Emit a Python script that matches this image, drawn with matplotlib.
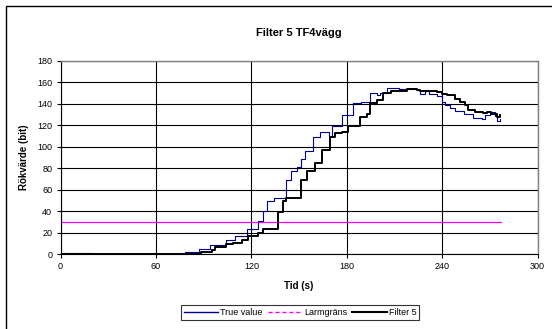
import matplotlib
matplotlib.use('Agg')
import matplotlib.pyplot as plt
from matplotlib.lines import Line2D
from matplotlib.patches import Rectangle

plt.rcParams['font.family'] = ['Liberation Sans', 'DejaVu Sans']

# True value (steg)
t_true = [0, 20, 78, 87, 94, 104, 110, 117, 124, 127, 130, 134, 141.5, 145, 148.5, 151,
          154, 159, 163, 169, 170.5, 177, 184, 189, 194.5, 199, 201, 205.5, 213, 224,
          226, 229, 232, 236.5, 239.7, 242, 245, 248, 254, 259.6, 264.8, 267, 270, 273,
          274.3, 276.4]
v_true = [1, 0, 2, 5, 8, 13, 17, 23, 31, 40, 49, 52, 69, 77, 81.5, 89,
          96, 109, 113.5, 110, 119, 130, 140.5, 142, 150, 148, 150, 155, 153.5, 153,
          149, 152, 149, 147, 142, 139, 136, 133, 131, 126.6, 126, 129.7, 132, 129,
          124.4, 126]

# Filter 5 (steg)
t_filt = [0, 88, 95, 97, 104, 108.4, 114, 118, 124, 127.3, 137, 140, 141.5, 151,
          154.8, 160, 164.2, 169.4, 172.6, 176.8, 181, 188.3, 192.5, 194.6, 198.8, 203,
          208, 217.7, 224, 226, 236.5, 239.7, 242.8, 248, 251, 254.3, 256.4, 260.6, 265.8,
          268, 271, 274.3, 276.4]
v_filt = [0, 2, 4, 6.8, 9.3, 10, 13, 17, 20, 23, 39, 49, 52, 69,
          77, 84.6, 97, 108.8, 112.6, 113.5, 119, 128, 131, 140.5, 143.7, 150,
          152, 153.6, 153, 152.3, 151.4, 149, 148.3, 145, 142, 139, 134, 132.7, 131.8,
          132, 130.6, 128, 129.7]

# Larmgräns
t_larm = [0, 277]
v_larm = [30, 30]

xticks = [0, 60, 120, 180, 240, 300]
yticks = [0, 20, 40, 60, 80, 100, 120, 140, 160, 180]

W, H = 552, 329
fig = plt.figure(figsize=(W / 100, H / 100), dpi=100)
fig.patch.set_facecolor('white')

# yttre ram
fig.add_artist(Rectangle((6 / W, -0.1), 1.2, 1 - 6 / H + 0.1, transform=fig.transFigure,
                         fill=False, edgecolor='black', linewidth=1.0))

ax = fig.add_axes([60.6 / W, 1 - 254 / H, 477 / W, 193 / H])
ax.plot(t_larm, v_larm, color='#ff00ff', linewidth=0.9)
ax.plot(t_true, v_true, color='#000099', linewidth=0.8, drawstyle='steps-post')
ax.plot(t_filt, v_filt, color='black', linewidth=1.4, drawstyle='steps-post')

ax.set_xlim(0, 300)
ax.set_ylim(0, 180)
ax.set_xticks(xticks)
ax.set_yticks(yticks)
ax.grid(True, color='black', linewidth=0.8)
ax.set_axisbelow(True)
for s in ['top', 'right']:
    ax.spines[s].set_color('#808080')
    ax.spines[s].set_linewidth(1.0)
for s in ['left', 'bottom']:
    ax.spines[s].set_color('black')
    ax.spines[s].set_linewidth(0.8)
ax.tick_params(labelsize=6.5, length=3, width=0.8, direction='out', pad=3)

ax.set_title('Filter 5 TF4vägg', fontsize=8, fontweight='bold', pad=18)
ax.set_xlabel('Tid (s)', fontsize=7, fontweight='bold', labelpad=7)
ax.set_ylabel('Rökvärde (bit)', fontsize=7, fontweight='bold', labelpad=6)

handles = [Line2D([], [], color='#000099', linewidth=1.0),
           Line2D([], [], color='#ff00ff', linewidth=1.0, linestyle=(0, (3, 2))),
           Line2D([], [], color='black', linewidth=1.5)]
leg = fig.legend(handles, ['True value', 'Larmgräns', 'Filter 5'], loc='center',
                 bbox_to_anchor=(300 / W, 1 - 312.5 / H), ncol=3, fontsize=6.5,
                 frameon=True, fancybox=False, handlelength=3.8, handletextpad=0.2,
                 columnspacing=0.6, borderpad=0.35)
leg.get_frame().set_edgecolor('black')
leg.get_frame().set_linewidth(0.8)

fig.savefig('out.png', dpi=100)
